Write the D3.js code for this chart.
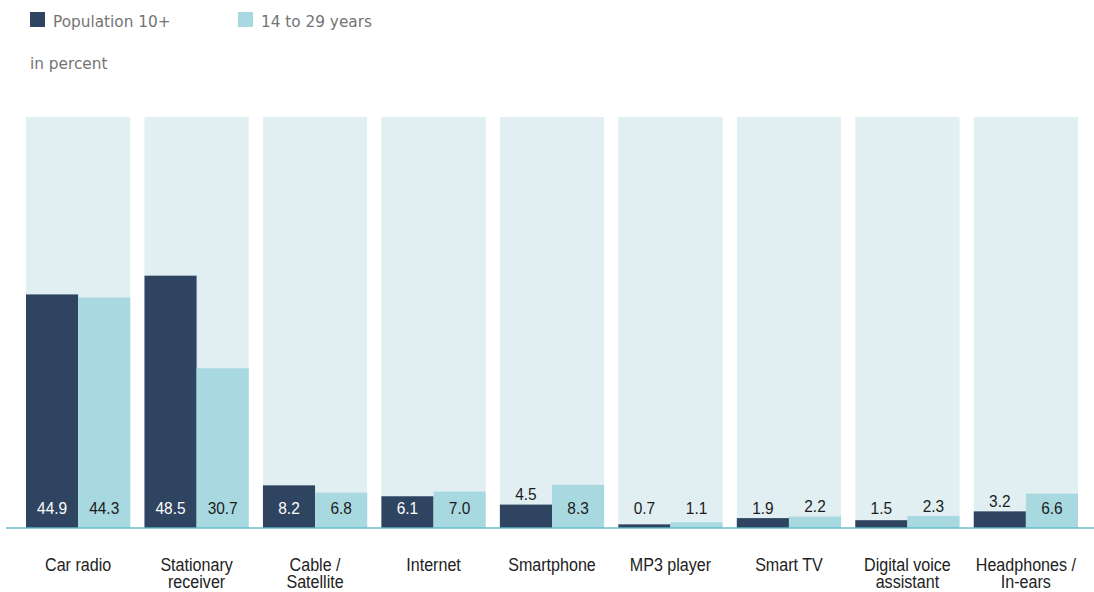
<!DOCTYPE html>
<html>
<head>
<meta charset="utf-8">
<script src="https://cdn.jsdelivr.net/npm/d3@7"></script>
<style>
  html, body { margin: 0; padding: 0; background: #fff; }
  svg { display: block; }
  .legend text { font-family: "DejaVu Sans", sans-serif; font-size: 15.3px; fill: #747474; }
  .value { font-family: "Liberation Sans", Arial, sans-serif; font-size: 16.8px; }
  .cat { font-family: "Liberation Sans", Arial, sans-serif; font-size: 18.5px; fill: #222; }
</style>
</head>
<body>
<svg id="chart" width="1094" height="592"></svg>
<script>
// Listening devices, share in percent
const categories = ["Car radio", "Stationary receiver", "Cable / Satellite", "Internet", "Smartphone",
                    "MP3 player", "Smart TV", "Digital voice assistant", "Headphones / In-ears"];
const categoryLines = [["Car radio"], ["Stationary", "receiver"], ["Cable /", "Satellite"], ["Internet"],
                       ["Smartphone"], ["MP3 player"], ["Smart TV"], ["Digital voice", "assistant"],
                       ["Headphones /", "In-ears"]];
const seriesNames = ["Population 10+", "14 to 29 years"];
const population10 = [44.9, 48.5, 8.2, 6.1, 4.5, 0.7, 1.9, 1.5, 3.2];
const age14to29 = [44.3, 30.7, 6.8, 7.0, 8.3, 1.1, 2.2, 2.3, 6.6];
const axisMax = 79;
const unitLabel = "in percent";

const colors = ["#2e4461", "#a9d9e0"];
const panelColor = "#e1eff3";

const svg = d3.select("#chart");
const baseY = 528, topY = 117;

const x = d3.scaleBand().domain(categories).range([26, 1078]).paddingInner(0.12).paddingOuter(0);
const sub = d3.scaleBand().domain(seriesNames).range([0, x.bandwidth()]).padding(0);
const y = d3.scaleLinear().domain([0, axisMax]).range([baseY, topY]);

// background panels
svg.append("g").selectAll("rect").data(categories).join("rect")
  .attr("x", d => x(d)).attr("width", x.bandwidth())
  .attr("y", y(axisMax)).attr("height", y(0) - y(axisMax))
  .attr("fill", panelColor);

const rows = categories.map((c, i) => [
  { cat: c, series: seriesNames[0], value: population10[i], k: 0 },
  { cat: c, series: seriesNames[1], value: age14to29[i], k: 1 }
]).flat();

// bars
svg.append("g").selectAll("rect").data(rows).join("rect")
  .attr("x", d => x(d.cat) + sub(d.series))
  .attr("width", sub.bandwidth())
  .attr("y", d => y(d.value))
  .attr("height", d => y(0) - y(d.value))
  .attr("fill", d => colors[d.k]);

// baseline
svg.append("line")
  .attr("x1", 6).attr("x2", 1094).attr("y1", baseY).attr("y2", baseY)
  .attr("stroke", "#5cbcc9").attr("stroke-opacity", 0.7).attr("stroke-width", 2);

// value labels: inside the bar when tall enough, otherwise just above it
svg.append("g").selectAll("text").data(rows).join("text")
  .attr("class", "value")
  .attr("text-anchor", "middle")
  .attr("transform", d => {
    const cx = x(d.cat) + sub(d.series) + sub.bandwidth() / 2;
    const ty = d.value >= 5 ? 513.5 : Math.min(513.5, y(d.value) - 4.5);
    return `translate(${cx},${ty}) scale(0.92,1)`;
  })
  .attr("fill", d => (d.value >= 5 && d.k === 0) ? "#ffffff" : "#1c1c1c")
  .text(d => d3.format(".1f")(d.value));

// category labels (narrowed horizontally)
const cg = svg.append("g").selectAll("text").data(categories).join("text")
  .attr("class", "cat")
  .attr("text-anchor", "middle")
  .attr("transform", d => `translate(${x(d) + x.bandwidth() / 2},571) scale(0.87,1)`);
cg.selectAll("tspan").data((d, i) => categoryLines[i]).join("tspan")
  .attr("x", 0)
  .attr("y", (d, j) => j * 16.5)
  .text(d => d);

// legend
const lg = svg.append("g").attr("class", "legend");
const legendX = [30, 238];
seriesNames.forEach((s, i) => {
  lg.append("rect").attr("x", legendX[i]).attr("y", 12).attr("width", 15).attr("height", 15).attr("fill", colors[i]);
  lg.append("text").attr("x", legendX[i] + 23).attr("y", 27).text(s);
});
lg.append("text").attr("x", 30).attr("y", 69).text(unitLabel);
</script>
</body>
</html>
